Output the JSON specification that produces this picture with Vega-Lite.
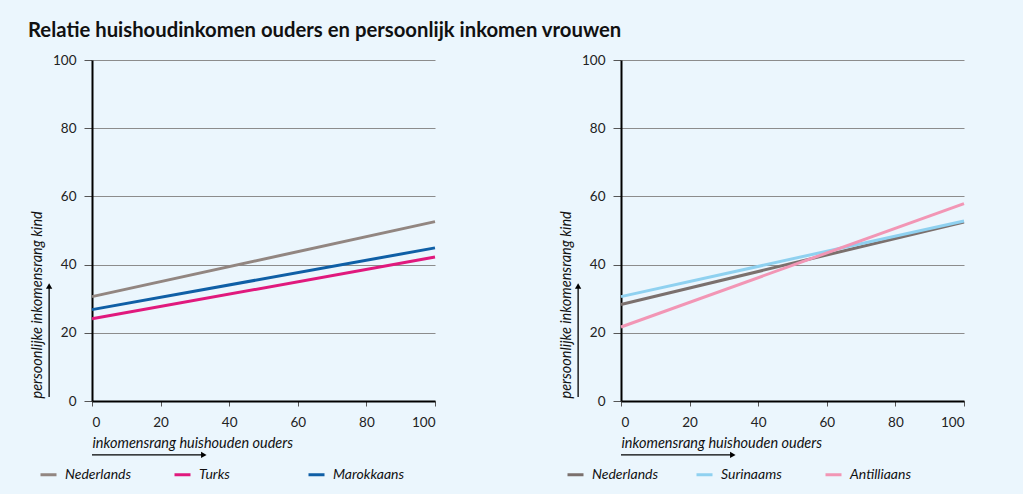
{
  "$schema": "https://vega.github.io/schema/vega-lite/v6.json",
  "padding": {"left": 28, "top": 20, "right": 56, "bottom": 12},
  "background": "#ebf6fd",
  "title": {"text": "Relatie huishoudinkomen ouders en persoonlijk inkomen vrouwen", "anchor": "start", "fontSize": 20.3, "font": "Lato", "fontWeight": "bold", "color": "#111111", "offset": 12, "dx": -1},
  "datasets": {
    "lines": [
      {"panel": "links", "groep": "Nederlands", "x": 0, "y": 30.6},
      {"panel": "links", "groep": "Nederlands", "x": 100, "y": 52.6},
      {"panel": "links", "groep": "Turks", "x": 0, "y": 24.1},
      {"panel": "links", "groep": "Turks", "x": 100, "y": 42.2},
      {"panel": "links", "groep": "Marokkaans", "x": 0, "y": 26.8},
      {"panel": "links", "groep": "Marokkaans", "x": 100, "y": 44.9},
      {"panel": "rechts", "groep": "Nederlands", "x": 0, "y": 28.3},
      {"panel": "rechts", "groep": "Nederlands", "x": 100, "y": 52.5},
      {"panel": "rechts", "groep": "Surinaams", "x": 0, "y": 30.6},
      {"panel": "rechts", "groep": "Surinaams", "x": 100, "y": 52.8},
      {"panel": "rechts", "groep": "Antilliaans", "x": 0, "y": 21.7},
      {"panel": "rechts", "groep": "Antilliaans", "x": 100, "y": 57.9}
    ],
    "arrows": [
      {"x0": 0, "x1": 32.6, "y0": -15.8, "y1": -15.8, "shape": "triangle-right"},
      {"x0": -12.5, "x1": -12.5, "y0": 1.2, "y1": 33.7, "shape": "triangle-up"}
    ]
  },
  "spacing": 117,
  "resolve": {"scale": {"color": "independent"}},
  "hconcat": [
    {
      "width": 343,
      "height": 341,
      "layer": [
        {
          "data": {"name": "lines"},
          "transform": [{"filter": "datum.panel == 'links'"}],
          "mark": {"type": "line", "strokeWidth": 3},
          "encoding": {
            "x": {"field": "x", "type": "quantitative", "scale": {"domain": [0, 100], "nice": false}, "title": "inkomensrang huishouden ouders", "axis": {"values": [0, 20, 40, 60, 80, 100]}},
            "y": {"field": "y", "type": "quantitative", "scale": {"domain": [0, 100], "nice": false}, "title": "persoonlijke inkomensrang kind", "axis": {"values": [0, 20, 40, 60, 80, 100]}},
            "color": {"field": "groep", "type": "nominal", "sort": null,
              "scale": {"domain": ["Nederlands", "Turks", "Marokkaans"], "range": ["#928681", "#e0197d", "#0f5fa6"]},
              "legend": {"orient": "none", "legendX": -53, "legendY": 405, "direction": "horizontal", "title": null, "columns": 3, "gridAlign": "all"}}
          }
        },
        {
          "data": {"name": "arrows"},
          "mark": {"type": "rule", "color": "#000000", "strokeWidth": 1.3},
          "encoding": {
            "x": {"field": "x0", "type": "quantitative", "title": "inkomensrang huishouden ouders"},
            "x2": {"field": "x1"},
            "y": {"field": "y0", "type": "quantitative", "title": "persoonlijke inkomensrang kind"},
            "y2": {"field": "y1"}
          }
        },
        {
          "data": {"name": "arrows"},
          "mark": {"type": "point", "filled": true, "color": "#000000", "opacity": 1, "size": 40},
          "encoding": {
            "x": {"field": "x1", "type": "quantitative", "title": "inkomensrang huishouden ouders"},
            "y": {"field": "y1", "type": "quantitative", "title": "persoonlijke inkomensrang kind"},
            "shape": {"field": "shape", "type": "nominal", "scale": null}
          }
        }
      ]
    },
    {
      "width": 343,
      "height": 341,
      "layer": [
        {
          "data": {"name": "lines"},
          "transform": [{"filter": "datum.panel == 'rechts'"}],
          "mark": {"type": "line", "strokeWidth": 3},
          "encoding": {
            "x": {"field": "x", "type": "quantitative", "scale": {"domain": [0, 100], "nice": false}, "title": "inkomensrang huishouden ouders", "axis": {"values": [0, 20, 40, 60, 80, 100]}},
            "y": {"field": "y", "type": "quantitative", "scale": {"domain": [0, 100], "nice": false}, "title": "persoonlijke inkomensrang kind", "axis": {"values": [0, 20, 40, 60, 80, 100]}},
            "color": {"field": "groep", "type": "nominal", "sort": null,
              "scale": {"domain": ["Nederlands", "Surinaams", "Antilliaans"], "range": ["#7b706d", "#8fd1f0", "#f296b5"]},
              "legend": {"orient": "none", "legendX": -55, "legendY": 405, "direction": "horizontal", "title": null, "columns": 3, "gridAlign": "all"}}
          }
        },
        {
          "data": {"name": "arrows"},
          "mark": {"type": "rule", "color": "#000000", "strokeWidth": 1.3},
          "encoding": {
            "x": {"field": "x0", "type": "quantitative", "title": "inkomensrang huishouden ouders"},
            "x2": {"field": "x1"},
            "y": {"field": "y0", "type": "quantitative", "title": "persoonlijke inkomensrang kind"},
            "y2": {"field": "y1"}
          }
        },
        {
          "data": {"name": "arrows"},
          "mark": {"type": "point", "filled": true, "color": "#000000", "opacity": 1, "size": 40},
          "encoding": {
            "x": {"field": "x1", "type": "quantitative", "title": "inkomensrang huishouden ouders"},
            "y": {"field": "y1", "type": "quantitative", "title": "persoonlijke inkomensrang kind"},
            "shape": {"field": "shape", "type": "nominal", "scale": null}
          }
        }
      ]
    }
  ],
  "config": {
    "font": "Lato",
    "view": {"stroke": null},
    "axis": {
      "labelFont": "Lato", "labelFontSize": 13.5, "labelColor": "#222222",
      "titleFont": "Lato", "titleFontSize": 14.5, "titleFontStyle": "italic", "titleFontWeight": "normal", "titleColor": "#111111",
      "domainColor": "#000000", "domainWidth": 2,
      "tickColor": "#555555", "tickWidth": 1
    },
    "axisY": {
      "grid": true, "gridColor": "#8c8c8c", "gridWidth": 1,
      "tickSize": 8, "labelPadding": 8,
      "titleAngle": 270, "titleX": -55, "titleY": 338, "titleAlign": "left", "titleBaseline": "middle"
    },
    "axisX": {
      "grid": false, "tickSize": 5, "labelPadding": 9,
      "titleX": 0, "titleY": 42, "titleAlign": "left", "titleBaseline": "middle", "titleAngle": 0
    },
    "legend": {
      "symbolType": "stroke", "symbolStrokeWidth": 3, "symbolSize": 256,
      "labelFont": "Lato", "labelFontSize": 14, "labelFontStyle": "italic", "labelColor": "#111111",
      "columnPadding": 31, "labelOffset": 7, "padding": 0
    }
  }
}
